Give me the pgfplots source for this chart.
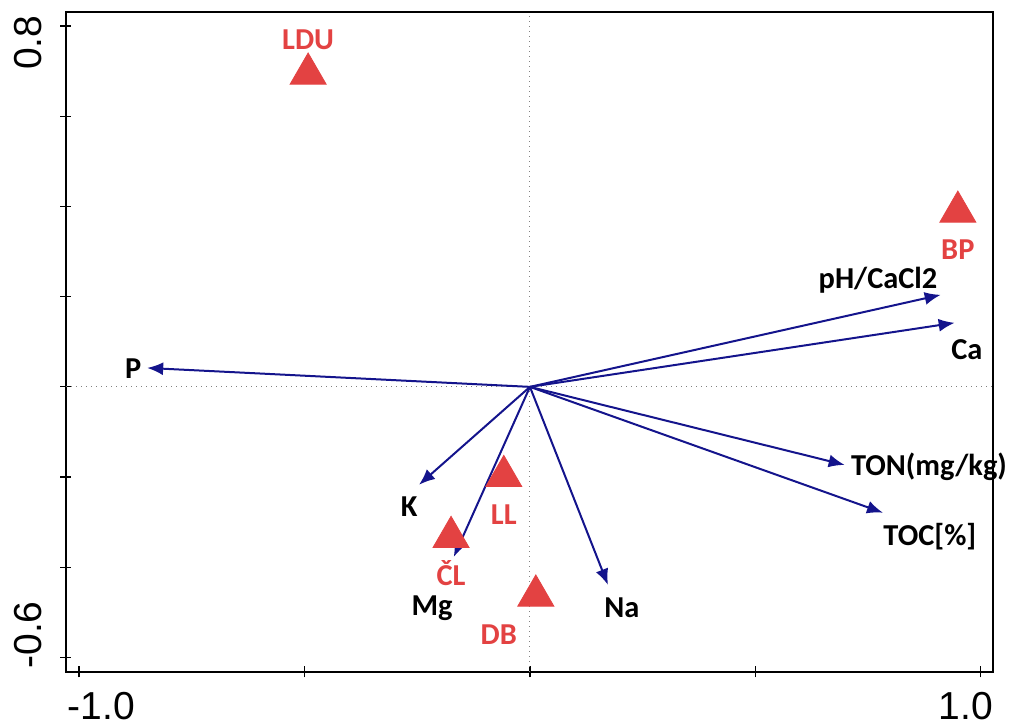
\documentclass[border=0pt]{standalone}
\usepackage{fontspec}
\setmainfont{Liberation Sans}
\newfontfamily\lab{Carlito}
\usepackage{pgfplots}
\pgfplotsset{compat=1.18}
\usetikzlibrary{arrows.meta}

\definecolor{sitered}{RGB}{227,66,66}
\definecolor{arrowblue}{RGB}{20,20,140}

\tikzset{
  vec/.style={arrowblue, line width=1pt, -{Latex[length=8pt,width=6.5pt]}},
  vlab/.style={font=\lab\bfseries\fontsize{15.2}{17}\selectfont, text=black, inner sep=0pt},
  slab/.style={font=\lab\bfseries\fontsize{15.2}{17}\selectfont, text=sitered, inner sep=0pt},
  tlab/.style={font=\fontsize{19.5}{22}\selectfont, inner sep=0pt},
}

\begin{document}
\begin{tikzpicture}
\begin{axis}[
    scale only axis,
    width=463.5pt, height=330pt,
    xmin=-1.029, xmax=1.027,
    ymin=-0.632, ymax=0.831,
    axis line style={line width=1pt},
    xtick={-1,-0.5,0,0.5,1},
    ytick={-0.6,-0.4,-0.2,0,0.2,0.4,0.6,0.8},
    xticklabels={}, yticklabels={},
    xtick pos=bottom, ytick pos=left,
    tick align=center,
    major tick length=5.5pt,
    tick style={black, line width=0.6pt},
    clip=false,
]
  % zero lines
  \addplot[gray, dotted, line width=0.5pt] coordinates {(0,-0.632) (0,0.831)};
  \addplot[gray, dotted, line width=0.5pt] coordinates {(-1.029,0) (1.027,0)};

  % variable arrows
  \addplot[vec] coordinates {(0,0) (-0.849,0.042)};
  \addplot[vec] coordinates {(0,0) (0.911,0.204)};
  \addplot[vec] coordinates {(0,0) (0.942,0.142)};
  \addplot[vec] coordinates {(0,0) (0.698,-0.173)};
  \addplot[vec] coordinates {(0,0) (0.783,-0.279)};
  \addplot[vec] coordinates {(0,0) (0.173,-0.439)};
  \addplot[vec] coordinates {(0,0) (-0.169,-0.377)};
  \addplot[vec] coordinates {(0,0) (-0.246,-0.217)};

  % sites
  \addplot[only marks, mark=triangle*, mark size=10.4pt,
           draw=sitered, fill=sitered] coordinates {
    (-0.492,0.694) (0.949,0.388) (-0.058,-0.198) (-0.175,-0.333) (0.013,-0.463)
  };

  % variable labels
  \node[vlab] at (axis cs:-0.880,0.040) {P};
  \node[vlab] at (axis cs:0.772,0.237) {pH/CaCl2};
  \node[vlab] at (axis cs:0.969,0.082) {Ca};
  \node[vlab] at (axis cs:0.885,-0.177) {TON(mg/kg)};
  \node[vlab] at (axis cs:0.887,-0.333) {TOC[\%]};
  \node[vlab] at (axis cs:-0.268,-0.266) {K};
  \node[vlab] at (axis cs:-0.217,-0.490) {Mg};
  \node[vlab] at (axis cs:0.204,-0.490) {Na};

  % site labels
  \node[slab] at (axis cs:-0.492,0.769) {LDU};
  \node[slab] at (axis cs:0.949,0.304) {BP};
  \node[slab] at (axis cs:-0.058,-0.284) {LL};
  \node[slab] at (axis cs:-0.175,-0.412) {ČL};
  \node[slab] at (axis cs:-0.069,-0.550) {DB};

  % tick labels
  \node[tlab] at ([yshift=-17pt]axis cs:-0.951,-0.632) {-1.0};
  \node[tlab] at ([yshift=-17pt]axis cs:0.967,-0.632) {1.0};
  \node[tlab, rotate=90] at ([xshift=-19pt]axis cs:-1.029,0.763) {0.8};
  \node[tlab, rotate=90] at ([xshift=-19pt]axis cs:-1.029,-0.550) {-0.6};

  \coordinate (sw) at (rel axis cs:0,0);
  \coordinate (ne) at (rel axis cs:1,1);
\end{axis}
\pgfresetboundingbox
\path[use as bounding box] ([shift={(-33pt,-27pt)}]sw) rectangle ([shift={(8pt,6pt)}]ne);
\end{tikzpicture}
\end{document}
